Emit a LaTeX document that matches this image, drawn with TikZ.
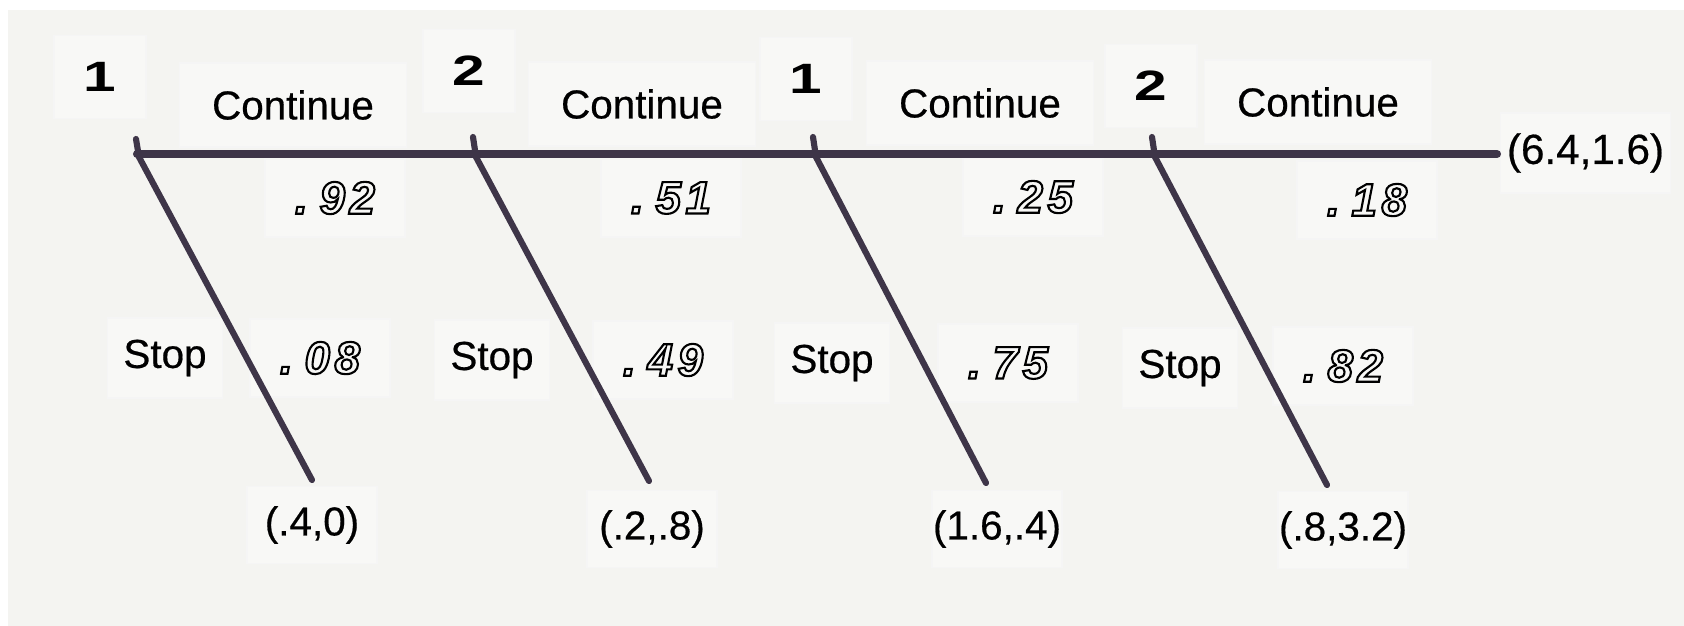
\documentclass[tikz,border=0pt]{standalone}
\usepackage{fontspec}
\usepackage{graphicx}
\setmainfont{Liberation Sans}
\newfontfamily\lblfont{Liberation Sans}[FakeBold=0.5]
\newfontfamily\numfont{Liberation Sans Bold}
\newfontfamily\prbfont{Liberation Sans Bold Italic}
\definecolor{bgcol}{HTML}{F4F4F1}
\definecolor{boxcol}{HTML}{F8F8F6}
\definecolor{linecol}{HTML}{3E3548}
\newcommand\outl[1]{\special{pdf:literal direct 1 Tr 0.6 w}#1\special{pdf:literal direct 0 Tr}}
\newcommand\prb[2]{\outl{.\kern.26em#1\kern.1em#2}}
\newcommand\wide[1]{\scalebox{1.45}[1.05]{#1}}
\begin{document}
\begin{tikzpicture}[x=0.1mm,y=-0.1mm,
  lbl/.style={font=\fontsize{11.5}{13}\lblfont, fill=boxcol, draw=black!4, line width=0.3pt, inner sep=0pt},
  numbox/.style={lbl, minimum width=9.2mm, minimum height=8.3mm, font=\fontsize{11.5}{13}\numfont},
  contbox/.style={lbl, minimum width=22.7mm, minimum height=8.4mm},
  probbox/.style={lbl, minimum width=14mm, minimum height=7.8mm, font=\fontsize{13}{15}\prbfont},
  stopbox/.style={lbl, minimum width=11.5mm, minimum height=8mm},
  payoffbox/.style={lbl, minimum width=13mm, minimum height=7.7mm},
  endbox/.style={lbl, minimum width=17mm, minimum height=8mm, font=\fontsize{12}{13}\lblfont},
  branch/.style={draw=linecol, line width=1.75pt, line cap=round, line join=round},
  trunk/.style={draw=linecol, line width=2.3pt, line cap=round}]
\fill[white] (0,0) rectangle (1684,626);
\fill[bgcol] (8,10) rectangle (1684,626);
\useasboundingbox (0,0) rectangle (1684,626);

% player labels
\node[numbox] (n1) at (100,77) {\wide{1}};
\node[numbox] (n2) at (469,71) {\wide{2}};
\node[numbox] (n3) at (806,79) {\wide{1}};
\node[numbox] (n4) at (1151,86) {\wide{2}};

% continue labels
\node[contbox] (c1) at (293,105) {Continue};
\node[contbox] (c2) at (642,104) {Continue};
\node[contbox] (c3) at (980,103) {Continue};
\node[contbox] (c4) at (1318,102) {Continue};

% continue probabilities
\node[probbox] (pc1) at (335,198) {\prb{9}{2}};
\node[probbox] (pc2) at (671,198) {\prb{5}{1}};
\node[probbox] (pc3) at (1033,197) {\prb{2}{5}};
\node[probbox] (pc4) at (1367,200) {\prb{1}{8}};

% stop labels
\node[stopbox] (s1) at (165,358) {Stop};
\node[stopbox] (s2) at (492,360) {Stop};
\node[stopbox] (s3) at (832,363) {Stop};
\node[stopbox] (s4) at (1180,368) {Stop};

% stop probabilities
\node[probbox] (ps1) at (320,358) {\prb{0}{8}};
\node[probbox] (ps2) at (663,360) {\prb{4}{9}};
\node[probbox] (ps3) at (1008,363) {\prb{7}{5}};
\node[probbox] (ps4) at (1343,366) {\prb{8}{2}};

% payoffs
\node[payoffbox] (o1) at (312,525) {(.4,0)};
\node[payoffbox] (o2) at (652,529) {(.2,.8)};
\node[payoffbox] (o3) at (997,529) {(1.6,.4)};
\node[payoffbox] (o4) at (1343,530) {(.8,3.2)};
\node[endbox, anchor=west] (fin) at (1500,153) {(6.4,1.6)};

% tree
\coordinate (h0) at (137,154);
\coordinate (r) at (1497,154);
\draw[trunk] (h0) -- (r);

\coordinate (t1) at (136,139); \coordinate (b1) at (139,157); \coordinate (e1) at (312,480);
\coordinate (t2) at (473,137); \coordinate (b2) at (476,157); \coordinate (e2) at (649,481);
\coordinate (t3) at (813,137); \coordinate (b3) at (816,157); \coordinate (e3) at (986,483);
\coordinate (t4) at (1152,137); \coordinate (b4) at (1155,157); \coordinate (e4) at (1327,485);
\draw[branch] (t1) -- (b1) -- (e1);
\draw[branch] (t2) -- (b2) -- (e2);
\draw[branch] (t3) -- (b3) -- (e3);
\draw[branch] (t4) -- (b4) -- (e4);
\end{tikzpicture}
\end{document}
